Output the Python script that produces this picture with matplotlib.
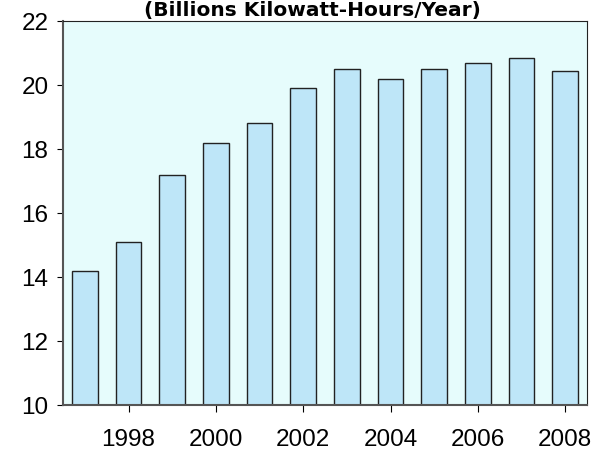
import matplotlib
matplotlib.use("Agg")
import matplotlib.pyplot as plt

years = [1997, 1998, 1999, 2000, 2001, 2002, 2003, 2004, 2005, 2006, 2007, 2008]
values = [14.2, 15.1, 17.2, 18.2, 18.8, 19.9, 20.5, 20.2, 20.5, 20.7, 20.85, 20.45]
xticks = [1998, 2000, 2002, 2004, 2006, 2008]
yticks = [10, 12, 14, 16, 18, 20, 22]
title = "(Billions Kilowatt-Hours/Year)"

fig = plt.figure(figsize=(5.92, 4.53), dpi=100)
ax = fig.add_axes([63/592, 1-405/453, (587-63)/592, (405-21)/453])
ax.set_facecolor("#E6FCFC")
ax.bar(years, [v - 10 for v in values], bottom=10, width=0.59,
       color="#BEE6F8", edgecolor="#222222", linewidth=1.0, zorder=2)
ax.set_xlim(1996.5, 2008.5)
ax.set_ylim(10, 22)
ax.set_xticks(xticks)
ax.set_yticks(yticks)
ax.tick_params(axis="both", labelsize=17.5, direction="out", color="black")
ax.tick_params(axis="y", length=4.5, pad=6)
ax.tick_params(axis="x", length=5, pad=12)
for lab in ax.get_xticklabels() + ax.get_yticklabels():
    lab.set_fontfamily("Liberation Sans")
for s in ["top", "right"]:
    ax.spines[s].set_color("#222222")
for s in ["left", "bottom"]:
    ax.spines[s].set_color("#555555")
    ax.spines[s].set_linewidth(1.5)
fig.text(312/592, 1 - 1/453, title, ha="center", va="top",
         fontsize=14.5, fontweight="bold", family="DejaVu Sans")
fig.savefig("out.png", dpi=100)
